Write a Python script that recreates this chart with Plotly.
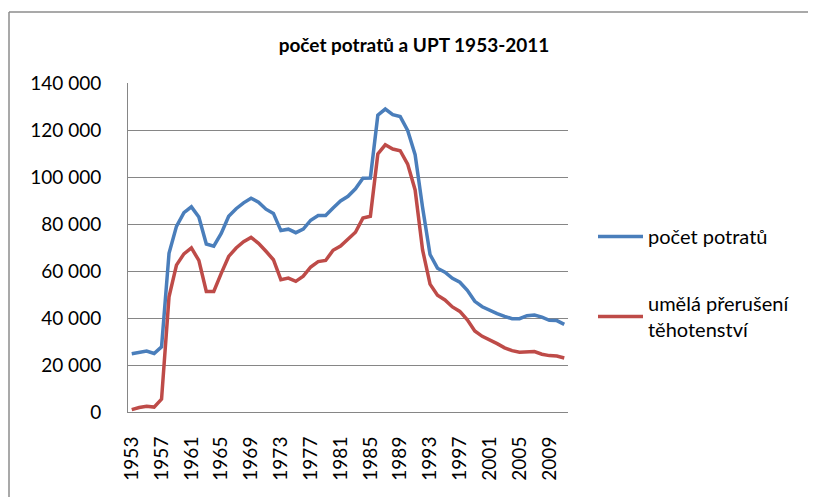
import plotly.graph_objects as go

years = [str(y) for y in range(1953, 2012)]

potraty = [
    24800, 25300, 25900, 24900, 27700, 67500, 79000, 84800, 87300, 83000,
    71500, 70600, 76000, 83300, 86500, 89000, 91000, 89300, 86300, 84500,
    77200, 77800, 76300, 77800, 81600, 83600, 83600, 86800, 89800, 91800,
    95000, 99500, 99600, 126300, 128900, 126500, 125700, 119800, 109500, 87000,
    67000, 61200, 59500, 56900, 55200, 51800, 47100, 44800, 43200, 41900,
    40700, 39700, 39700, 41000, 41300, 40400, 39000, 38900, 37300,
]

upt = [
    1000, 1900, 2400, 2100, 5500, 49000, 62500, 67300, 69800, 64500,
    51300, 51300, 59000, 66200, 69800, 72500, 74300, 71800, 68400, 64800,
    56300, 57000, 55600, 57800, 61700, 64000, 64500, 68800, 70600, 73700,
    76500, 82500, 83300, 109800, 113700, 111900, 111200, 105500, 94500, 69000,
    54400, 49700, 47700, 44700, 42800, 39200, 34500, 32200, 30800, 29100,
    27300, 26100, 25400, 25400, 25700, 24600, 24000, 23800, 23000,
]

tick_labels = [str(y) for y in range(1953, 2012, 4)]
y_ticks = [0, 20000, 40000, 60000, 80000, 100000, 120000, 140000]

series_names = ["počet potratů", "umělá přerušení<br>těhotenství"]
colors = ["#4A7EBB", "#BE4B48"]

FONT = "Lato"
# page body has an 8px default margin, so the figure is drawn 8px in
W, H = 808, 489
L, R, T, B = 120, 560, 75, 404
pw, ph = R - L, B - T

fig = go.Figure()
for name, vals, col, grp in zip(series_names, [potraty, upt], colors, ["a", "b"]):
    fig.add_trace(go.Scatter(
        x=years, y=vals, mode="lines", name=name, legendgroup=grp,
        line=dict(color=col, width=3.5),
    ))

fig.update_layout(
    width=W, height=H,
    margin=dict(l=L, r=W - R, t=T, b=H - B),
    paper_bgcolor="white", plot_bgcolor="white",
    separators=", ",
    font=dict(family=FONT, size=19, color="#000000"),
    title=dict(
        text="<b>počet potratů a UPT 1953-2011</b>",
        font=dict(family=FONT, size=19, color="#000000"),
        xref="container", x=406 / W, xanchor="center",
        yref="container", y=1 - 37 / H, yanchor="middle",
    ),
    showlegend=True,
    legend=dict(
        x=(585 - L) / pw, xanchor="left",
        y=(B - 209) / ph, yanchor="top",
        font=dict(family=FONT, size=20, color="#000000"),
        tracegroupgap=38,
        itemwidth=45,
        bgcolor="rgba(0,0,0,0)",
    ),
    xaxis=dict(
        type="category",
        range=[-0.5, len(years) - 0.5],
        tickmode="array", tickvals=tick_labels, ticktext=tick_labels,
        tickangle=-90,
        ticks="outside", ticklen=16, tickcolor="rgba(0,0,0,0)",
        showline=True, linecolor="#868686", linewidth=1,
        showgrid=False, zeroline=False,
        tickfont=dict(family=FONT, size=19),
    ),
    yaxis=dict(
        range=[0, 140000],
        tickmode="array", tickvals=y_ticks,
        tickformat=",d",
        ticks="outside", ticklen=22, tickcolor="rgba(0,0,0,0)",
        showline=True, linecolor="#868686", linewidth=1,
        showgrid=True, gridcolor="#868686", gridwidth=1,
        zeroline=False,
        tickfont=dict(family=FONT, size=19),
    ),
    shapes=[
        dict(type="line", xref="paper", yref="paper",
             x0=(1 - L) / pw, x1=(W - L) / pw,
             y0=(B - 4) / ph, y1=(B - 4) / ph,
             line=dict(color="#8C8C8C", width=1.5)),
        dict(type="line", xref="paper", yref="paper",
             x0=(1 - L) / pw, x1=(1 - L) / pw,
             y0=(B - 4) / ph, y1=(B - H) / ph,
             line=dict(color="#8C8C8C", width=1.5)),
    ],
)

fig.write_html("out.html", config={"displayModeBar": False})
